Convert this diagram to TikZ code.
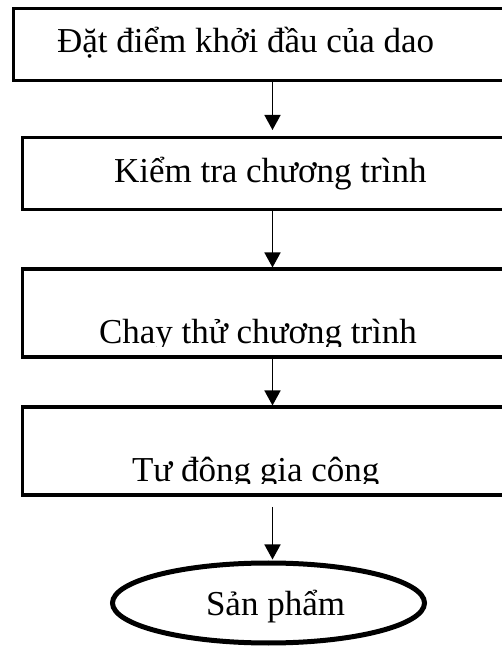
\documentclass[tikz,border=0pt]{standalone}
\usepackage{fontspec}
\setmainfont{Liberation Serif}
\usetikzlibrary{arrows.meta,shapes.geometric,calc}
\tikzset{
  box/.style={draw, line width=3.5pt, rectangle, outer sep=0pt, inner sep=0pt, anchor=north west},
  oval/.style={draw, line width=5pt, ellipse, outer sep=0pt, inner sep=0pt, minimum width=312pt, minimum height=80pt},
  lbl/.style={inner sep=0pt, outer sep=0pt, anchor=base west, font=\fontsize{35pt}{42pt}\selectfont},
  arr/.style={line width=1.6pt, -{Triangle[length=15pt,width=16pt]}}
}
\begin{document}
\begin{tikzpicture}[x=1pt,y=1pt]
\useasboundingbox (0,0) rectangle (502,646);
\clip (0,0) rectangle (502,646);
% boxes
\node[box, minimum width=506.5pt, minimum height=72pt] (b1) at (13.5,637.5) {};
\node[box, minimum width=497.5pt, minimum height=72pt] (b2) at (22.5,508.5) {};
\node[box, minimum width=497.5pt, minimum height=88pt] (b3) at (22.5,377) {};
\node[box, minimum width=497.5pt, minimum height=88pt] (b4) at (22.5,239) {};
\node[oval] (e) at (268.5,43) {};
% texts
\node[lbl] (t1) at (57,593.5) {Đặt điểm khởi đầu của dao};
\node[lbl] (t2) at (114,463) {Kiểm tra chương trình};
\begin{scope}
\clip (22.5,299) rectangle (520,377);
\node[lbl] (t3) at (99,302.7) {Chay thử chương trình};
\end{scope}
\begin{scope}
\clip (22.5,162) rectangle (520,239);
\node[lbl] (t4) at (132,164.3) {Tư đông gia công};
\end{scope}
\node[lbl] (t5) at (206,30.3) {Sản phẩm};
% arrows
\coordinate (ax) at (272.5,0);
\coordinate (a4s) at (272.5,139);
\draw[arr] (b1.south west -| ax) -- ($(b2.north west -| ax)+(0,7.5)$);
\draw[arr] (b2.south west -| ax) -- ($(b3.north west -| ax)+(0,1.5)$);
\draw[arr] (b3.south west -| ax) -- ($(b4.north west -| ax)+(0,1.5)$);
\draw[arr] (a4s) -- ($(e.north -| ax)+(0,3.5)$);
\end{tikzpicture}
\end{document}
